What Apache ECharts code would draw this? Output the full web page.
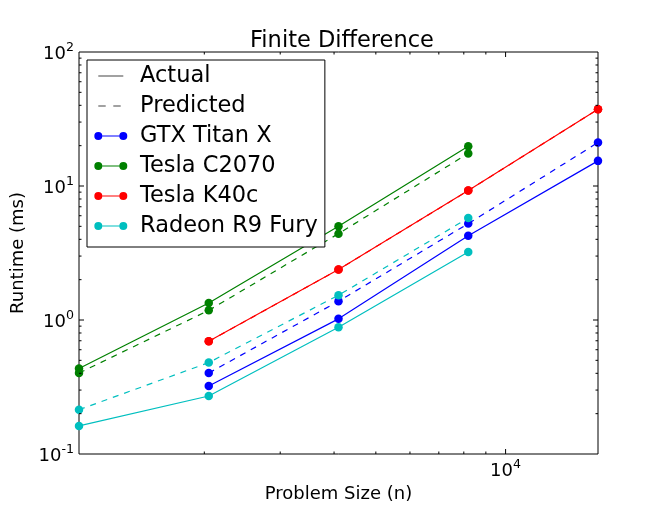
<!DOCTYPE html>
<html>
<head>
<meta charset="utf-8">
<script src="https://cdn.jsdelivr.net/npm/echarts@6/dist/echarts.min.js"></script>
<style>
  html, body { margin: 0; padding: 0; background: #fff; }
  #chart { width: 666px; height: 505px; }
</style>
</head>
<body>
<div id="chart"></div>
<script>
// problem sizes (x) and runtimes in ms
const sizes = [1024, 2048, 4096, 8192, 16384]
const titanActual = [null, 0.322, 1.02, 4.26, 15.4]
const titanPredicted = [null, 0.402, 1.38, 5.24, 21.1]
const c2070Actual = [0.434, 1.34, 5.0, 19.8, null]
const c2070Predicted = [0.402, 1.18, 4.41, 17.5, null]
const k40cActual = [null, 0.693, 2.38, 9.24, 37.4]
const k40cPredicted = [null, 0.693, 2.38, 9.24, 37.4]
const furyActual = [0.162, 0.271, 0.883, 3.22, null]
const furyPredicted = [0.214, 0.481, 1.53, 5.77, null]

// tick values
const xMajorTicks = [10000]
const xMinorTicks = [2000, 3000, 4000, 5000, 6000, 7000, 8000, 9000]
const yMajorTicks = [1, 10]
const yMinorTicks = [0.2, 0.3, 0.4, 0.5, 0.6, 0.7, 0.8, 0.9, 2, 3, 4, 5, 6, 7, 8, 9, 20, 30, 40, 50, 60, 70, 80, 90]

const FONT = 'DejaVu Sans'
let myChart = echarts.init(document.getElementById('chart'))

function pairs(ys) {
  let out = []
  ys.forEach((y, i) => { if (y != null) out.push([sizes[i], y]) })
  return out
}

function deviceSeries(name, color, actual, predicted) {
  return [{
    name: name, type: 'line', data: pairs(actual),
    color: color, symbol: 'circle', symbolSize: 8.5,
    lineStyle: { width: 1.2, color: color },
    itemStyle: { color: color }
  }, {
    name: name, type: 'line', data: pairs(predicted),
    color: color, symbol: 'circle', symbolSize: 8.5,
    lineStyle: { width: 1.2, color: color, type: [6, 6] },
    itemStyle: { color: color }
  }]
}

// legend icons (33x12 box, corner dots keep the box)
const box = 'M0,0h0.01v0.01h-0.01z M33,12h-0.01v-0.01h0.01z '
const iconSolid = 'path://' + box + 'M4,5.5h25v1h-25z'
const iconDashed = 'path://' + box + 'M4,5.5h7.4v1h-7.4z M19,5.5h7.4v1h-7.4z'
const iconDevice = 'path://' + box +
  'M0,6a4,4 0 1,0 8,0a4,4 0 1,0 -8,0z M8,5.4h17v1.2h-17z M25,6a4,4 0 1,0 8,0a4,4 0 1,0 -8,0z'

let xTicks = xMajorTicks.map(v => ({ v: v, len: 5 })).concat(xMinorTicks.map(v => ({ v: v, len: 2.5 })))
let yTicks = yMajorTicks.map(v => ({ v: v, len: 5 })).concat(yMinorTicks.map(v => ({ v: v, len: 2.5 })))

function tickLine(x1, y1, x2, y2) {
  return { type: 'line', shape: { x1: x1, y1: y1, x2: x2, y2: y2 }, style: { stroke: '#000', lineWidth: 1 } }
}

function supLabel(v) {
  let e = Math.round(Math.log10(v))
  return '{b|10}{s|' + e + '}'
}
const labelRich = {
  b: { fontSize: 18, fontFamily: FONT, color: '#000', verticalAlign: 'bottom', lineHeight: 22 },
  s: { fontSize: 12.6, fontFamily: FONT, color: '#000', verticalAlign: 'top', lineHeight: 22 }
}

let option = {
  animation: false,
  backgroundColor: '#fff',
  title: {
    text: 'Finite Difference',
    left: 337, top: 25, textAlign: 'center',
    textStyle: { fontFamily: FONT, fontSize: 22.5, fontWeight: 'normal', color: '#000' }
  },
  grid: {
    left: 79, right: 68, top: 52, bottom: 51,
    outerBoundsMode: 'none',
    show: true, borderColor: '#000', borderWidth: 1, backgroundColor: 'transparent'
  },
  legend: {
    orient: 'vertical', left: 87, top: 60,
    padding: [3, 7, 8, 7.3],
    itemWidth: 33, itemHeight: 12, itemGap: 4,
    backgroundColor: '#fff', borderColor: '#000', borderWidth: 1,
    textStyle: { fontFamily: FONT, fontSize: 22.5, color: '#000', lineHeight: 26, padding: [0, 0, 0, 7.7] },
    data: [
      { name: 'Actual', icon: iconSolid },
      { name: 'Predicted', icon: iconDashed },
      { name: 'GTX Titan X', icon: iconDevice },
      { name: 'Tesla C2070', icon: iconDevice },
      { name: 'Tesla K40c', icon: iconDevice },
      { name: 'Radeon R9 Fury', icon: iconDevice }
    ],
    selectedMode: false
  },
  xAxis: {
    type: 'log', logBase: 10, min: 1024, max: 16384,
    name: 'Problem Size (n)', nameLocation: 'middle', nameGap: 31,
    nameTextStyle: { fontFamily: FONT, fontSize: 18, color: '#000' },
    axisLine: { show: false }, axisTick: { show: false }, splitLine: { show: false },
    axisLabel: {
      margin: 4, showMinLabel: false, showMaxLabel: false,
      formatter: v => Math.abs(v - 10000) < 1 ? supLabel(v) : '',
      rich: labelRich
    }
  },
  yAxis: {
    type: 'log', logBase: 10, min: 0.1, max: 100,
    name: 'Runtime (ms)', nameLocation: 'middle', nameGap: 50,
    nameTextStyle: { fontFamily: FONT, fontSize: 18, color: '#000' },
    axisLine: { show: false }, axisTick: { show: false }, splitLine: { show: false },
    axisLabel: { margin: 5, formatter: v => supLabel(v), rich: labelRich }
  },
  series: [
    { name: 'Actual', type: 'line', data: [], color: '#444', lineStyle: { color: '#444' } },
    { name: 'Predicted', type: 'line', data: [], color: '#444', lineStyle: { color: '#444', type: 'dashed' } }
  ]
    .concat(deviceSeries('GTX Titan X', '#0000ff', titanActual, titanPredicted))
    .concat(deviceSeries('Tesla C2070', '#008000', c2070Actual, c2070Predicted))
    .concat(deviceSeries('Tesla K40c', '#ff0000', k40cActual, k40cPredicted))
    .concat(deviceSeries('Radeon R9 Fury', '#00bfbf', furyActual, furyPredicted))
    .concat([{
      // ticks on bottom and top spines
      type: 'custom', silent: true, z: 5, clip: false,
      data: xTicks.map(t => [t.v, 1]),
      renderItem: function (params, api) {
        let cs = params.coordSys
        let px = api.coord([api.value(0), 1])[0]
        let len = xTicks[params.dataIndex].len
        return {
          type: 'group', children: [
            tickLine(px, cs.y + cs.height, px, cs.y + cs.height - len),
            tickLine(px, cs.y, px, cs.y + len)
          ]
        }
      }
    }, {
      // ticks on left and right spines
      type: 'custom', silent: true, z: 5, clip: false,
      data: yTicks.map(t => [sizes[0], t.v]),
      renderItem: function (params, api) {
        let cs = params.coordSys
        let py = api.coord([sizes[0], api.value(1)])[1]
        let len = yTicks[params.dataIndex].len
        return {
          type: 'group', children: [
            tickLine(cs.x, py, cs.x + len, py),
            tickLine(cs.x + cs.width, py, cs.x + cs.width - len, py)
          ]
        }
      }
    }])
}

myChart.setOption(option)
</script>
</body>
</html>
